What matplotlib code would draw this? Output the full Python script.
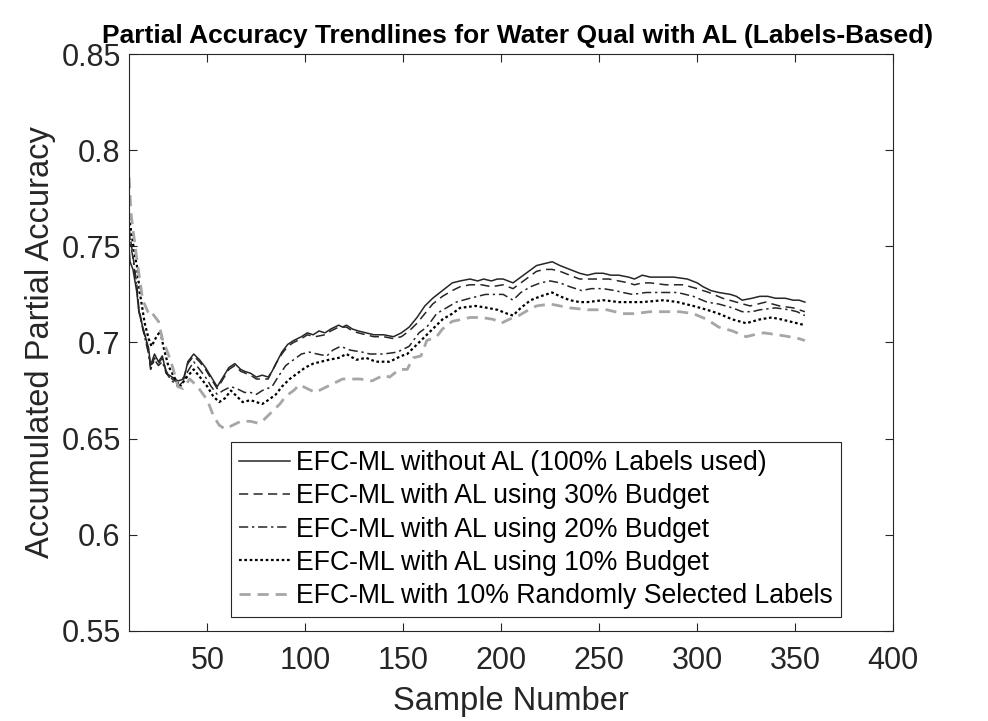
import numpy as np
import matplotlib.pyplot as plt

# values: (sample number, accumulated partial accuracy)
full_labels = [(10, 0.750), (10.5, 0.742), (12, 0.738), (14, 0.726), (15, 0.716), (17, 0.708), (20, 0.697),
               (21, 0.688), (23, 0.694), (25, 0.690), (27, 0.693), (29, 0.684), (32, 0.682), (35, 0.680),
               (38, 0.681), (40, 0.690), (43, 0.694), (46, 0.691), (49, 0.687), (52, 0.682), (55, 0.677),
               (58, 0.682), (61, 0.687), (64, 0.689), (67, 0.686), (69, 0.685), (72, 0.684), (75, 0.682),
               (78, 0.683), (81, 0.682), (83, 0.685), (86, 0.691), (88, 0.695), (91, 0.699), (94, 0.701),
               (98, 0.703), (101, 0.705), (104, 0.704), (107, 0.706), (110, 0.705), (113, 0.707), (117, 0.709),
               (119, 0.708), (121, 0.709), (124, 0.707), (127, 0.706), (131, 0.705), (135, 0.704), (140, 0.704),
               (145, 0.703), (149, 0.705), (153, 0.708), (157, 0.713), (161, 0.719), (165, 0.723), (170, 0.727),
               (175, 0.731), (179, 0.732), (184, 0.733), (188, 0.732), (191, 0.733), (195, 0.732), (198, 0.733),
               (201, 0.733), (206, 0.731), (210, 0.734), (214, 0.737), (218, 0.740), (222, 0.741), (226, 0.742),
               (230, 0.740), (235, 0.738), (240, 0.736), (244, 0.735), (248, 0.736), (252, 0.736), (256, 0.735),
               (260, 0.735), (265, 0.734), (268, 0.733), (272, 0.735), (276, 0.734), (282, 0.734), (288, 0.734),
               (295, 0.733), (300, 0.731), (303, 0.729), (307, 0.727), (311, 0.726), (317, 0.725), (320, 0.724),
               (323, 0.722), (328, 0.723), (332, 0.724), (336, 0.724), (340, 0.723), (345, 0.723), (349, 0.722),
               (352, 0.722), (355, 0.721)]

budget30 = [(10, 0.760), (11, 0.752), (12, 0.745), (14, 0.730), (15, 0.718), (17, 0.708), (20, 0.695),
            (21, 0.687), (23, 0.692), (25, 0.689), (27, 0.692), (29, 0.685), (32, 0.681), (35, 0.679),
            (38, 0.682), (40, 0.689), (43, 0.693), (46, 0.690), (49, 0.686), (52, 0.681), (55, 0.676),
            (58, 0.681), (61, 0.686), (64, 0.688), (67, 0.685), (72, 0.683), (75, 0.681), (81, 0.681),
            (85, 0.689), (88, 0.694), (91, 0.698), (94, 0.700), (98, 0.702), (101, 0.704), (105, 0.703),
            (110, 0.704), (113, 0.706), (117, 0.708), (121, 0.708), (124, 0.706), (127, 0.705), (131, 0.704),
            (135, 0.703), (140, 0.703), (145, 0.702), (149, 0.703), (153, 0.706), (157, 0.710), (161, 0.715),
            (165, 0.720), (170, 0.724), (175, 0.727), (179, 0.729), (184, 0.730), (190, 0.730), (195, 0.729),
            (201, 0.730), (206, 0.728), (210, 0.731), (214, 0.734), (218, 0.737), (222, 0.738), (226, 0.738),
            (230, 0.737), (235, 0.735), (240, 0.733), (245, 0.733), (250, 0.733), (255, 0.733), (260, 0.732),
            (265, 0.731), (268, 0.730), (272, 0.731), (276, 0.731), (284, 0.730), (293, 0.730), (300, 0.728),
            (306, 0.726), (313, 0.723), (320, 0.721), (327, 0.719), (331, 0.720), (335, 0.721), (342, 0.719),
            (349, 0.718), (355, 0.716)]

budget20 = [(10, 0.758), (11, 0.750), (12, 0.744), (14, 0.728), (15, 0.717), (17, 0.707), (20, 0.694),
            (21, 0.686), (23, 0.691), (25, 0.688), (27, 0.690), (29, 0.684), (32, 0.680), (35, 0.677),
            (38, 0.680), (40, 0.685), (43, 0.690), (46, 0.686), (49, 0.682), (52, 0.677), (55, 0.673),
            (58, 0.675), (62, 0.677), (65, 0.676), (69, 0.674), (72, 0.674), (75, 0.673), (78, 0.675),
            (83, 0.677), (86, 0.682), (90, 0.688), (94, 0.691), (98, 0.694), (102, 0.695), (106, 0.694),
            (111, 0.693), (114, 0.696), (118, 0.698), (123, 0.696), (129, 0.695), (133, 0.694), (140, 0.694),
            (147, 0.695), (153, 0.698), (158, 0.705), (162, 0.708), (167, 0.715), (172, 0.718), (177, 0.721),
            (184, 0.723), (192, 0.725), (201, 0.725), (206, 0.722), (210, 0.726), (215, 0.729), (220, 0.731),
            (225, 0.732), (230, 0.731), (235, 0.729), (241, 0.727), (246, 0.728), (252, 0.728), (258, 0.727),
            (262, 0.726), (267, 0.725), (274, 0.726), (281, 0.726), (290, 0.726), (298, 0.724), (305, 0.721),
            (311, 0.720), (318, 0.718), (323, 0.716), (328, 0.716), (332, 0.717), (340, 0.718), (347, 0.717),
            (351, 0.716), (355, 0.714)]

budget10 = [(10, 0.765), (11.5, 0.755), (13, 0.745), (14, 0.740), (15.5, 0.726), (18, 0.710), (20, 0.702),
            (21.5, 0.698), (24, 0.703), (26, 0.706), (27.5, 0.698), (30, 0.688), (33, 0.682), (36, 0.677),
            (39.5, 0.682), (43, 0.686), (47, 0.681), (50, 0.677), (53, 0.672), (56, 0.669), (59, 0.671),
            (62, 0.675), (65, 0.672), (68, 0.669), (72, 0.670), (78, 0.668), (81, 0.670), (85, 0.673),
            (88, 0.677), (92, 0.681), (96, 0.684), (100, 0.687), (104, 0.689), (108, 0.690), (112, 0.691),
            (117, 0.692), (121, 0.694), (126, 0.691), (131, 0.692), (136, 0.690), (143, 0.690), (149, 0.693),
            (152, 0.694), (156, 0.698), (160, 0.702), (165, 0.707), (170, 0.712), (175, 0.715), (179, 0.718),
            (187, 0.719), (193, 0.718), (198, 0.717), (203, 0.715), (206, 0.714), (210, 0.718), (215, 0.722),
            (220, 0.724), (226, 0.726), (230, 0.724), (235, 0.722), (240, 0.721), (244, 0.721), (252, 0.722),
            (260, 0.721), (266, 0.721), (272, 0.721), (283, 0.722), (290, 0.721), (298, 0.719), (305, 0.717),
            (311, 0.715), (318, 0.712), (325, 0.710), (332, 0.712), (338, 0.713), (343, 0.712), (347, 0.711),
            (355, 0.709)]

random10 = [(10, 0.786), (11, 0.767), (12.5, 0.755), (14, 0.743), (17, 0.722), (20.5, 0.714), (22, 0.715),
            (25, 0.711), (27, 0.702), (30, 0.694), (32, 0.688), (35, 0.677), (37.5, 0.676), (41, 0.681),
            (45, 0.677), (50, 0.670), (53, 0.662), (56, 0.657), (59, 0.655), (63, 0.657), (67, 0.659),
            (72, 0.659), (76, 0.658), (79, 0.660), (83, 0.664), (87, 0.668), (90, 0.672), (94, 0.675),
            (97, 0.678), (101, 0.676), (105, 0.674), (111, 0.677), (115, 0.679), (119, 0.681), (128, 0.681),
            (134, 0.680), (140, 0.683), (143, 0.682), (148, 0.686), (152, 0.686), (155, 0.692), (159, 0.693),
            (162, 0.701), (167, 0.703), (170, 0.707), (175, 0.711), (180, 0.712), (184, 0.713), (190, 0.713),
            (196, 0.712), (200, 0.710), (204, 0.712), (209, 0.714), (214, 0.717), (218, 0.719), (225, 0.720),
            (230, 0.719), (235, 0.718), (244, 0.717), (254, 0.717), (262, 0.715), (268, 0.715), (276, 0.716),
            (285, 0.716), (291, 0.716), (298, 0.715), (305, 0.712), (311, 0.708), (318, 0.706), (325, 0.703),
            (329, 0.704), (334, 0.705), (341, 0.704), (347, 0.703), (352, 0.702), (355, 0.701)]

labels = ['EFC-ML without AL (100% Labels used)',
          'EFC-ML with AL using 30% Budget',
          'EFC-ML with AL using 20% Budget',
          'EFC-ML with AL using 10% Budget',
          'EFC-ML with 10% Randomly Selected Labels']

y_ticks = [0.55, 0.6, 0.65, 0.7, 0.75, 0.8, 0.85]
x_ticks = [50, 100, 150, 200, 250, 300, 350, 400]

plt.rcParams['font.family'] = ['Liberation Sans', 'DejaVu Sans']

fig = plt.figure(figsize=(9.88, 7.21), dpi=100)
ax = fig.add_axes([0.1306, 0.125, 0.7733, 0.8])

dark = '#262626'
styles = [dict(color=dark, linestyle='-', linewidth=1.1),
          dict(color=dark, linestyle=(0, (6, 3.5)), linewidth=1.1),
          dict(color=dark, linestyle=(0, (6, 2.5, 1.5, 2.5)), linewidth=1.1),
          dict(color='black', linestyle=(0, (1.2, 1.2)), linewidth=1.6),
          dict(color='#a6a6a6', linestyle=(0, (4, 2.5)), linewidth=2.0)]

for data, lab, st in zip([full_labels, budget30, budget20, budget10, random10], labels, styles):
    arr = np.array(data)
    ax.plot(arr[:, 0], arr[:, 1], label=lab, **st)

ax.set_xlim(10, 400)
ax.set_ylim(0.55, 0.85)
ax.set_xticks(x_ticks)
ax.set_yticks(y_ticks)
ax.set_yticklabels([('%.2f' % v).rstrip('0') for v in y_ticks])
ax.tick_params(direction='in', top=True, right=True, length=6, width=0.8,
               labelsize=22, colors=dark, labelcolor=dark)
ax.tick_params(axis='x', pad=11)
ax.tick_params(axis='y', pad=6)
for sp in ax.spines.values():
    sp.set_color(dark)
    sp.set_linewidth(0.8)

ax.set_xlabel('Sample Number', fontsize=23.5, color=dark, labelpad=7)
ax.set_ylabel('Accumulated Partial Accuracy', fontsize=23.5, color=dark, labelpad=4)
ax.set_title('Partial Accuracy Trendlines for Water Qual with AL (Labels-Based)',
             fontsize=19, fontweight='bold', pad=8, x=0.509)

leg = ax.legend(loc='lower left', bbox_to_anchor=(0.1335, 0.024), fontsize=19.2,
                handlelength=1.9, handletextpad=0.25, borderpad=0.3, labelspacing=0.27,
                fancybox=False, framealpha=1, edgecolor=dark, borderaxespad=0)
leg.get_frame().set_linewidth(0.8)

fig.savefig('out.png', dpi=100)
